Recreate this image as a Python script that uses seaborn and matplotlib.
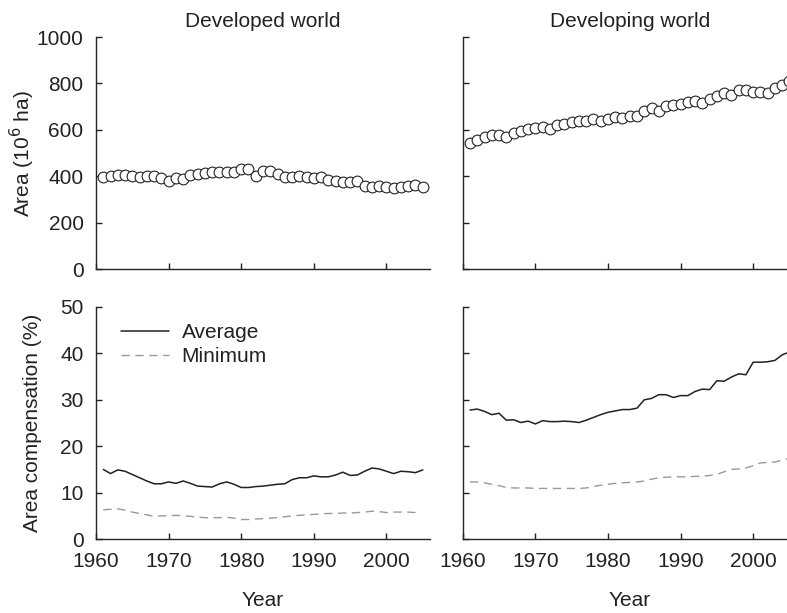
import matplotlib
matplotlib.use("Agg")
import matplotlib.pyplot as plt
import seaborn as sns

# Data
years = list(range(1961, 2006))

area_developed = [396, 401, 406, 407, 401, 399, 401, 400, 391, 381,
                  393, 388, 407, 410, 414, 417, 419, 419, 420, 430,
                  432, 401, 421, 422, 410, 399, 396, 403, 396, 392,
                  399, 384, 378, 374, 374, 378, 357, 353, 360, 355,
                  350, 353, 360, 364, 353]

area_developing = [544, 557, 568, 580, 578, 571, 586, 594, 603, 609,
                   614, 604, 619, 626, 633, 637, 640, 647, 637, 646,
                   655, 650, 658, 662, 683, 694, 681, 705, 709, 712,
                   719, 724, 715, 734, 744, 758, 751, 770, 770, 763,
                   765, 761, 780, 794, 809]

avg_developed = [15.0, 14.1, 14.9, 14.6, 13.9, 13.2, 12.5, 11.9, 11.9, 12.3,
                 12.0, 12.5, 12.0, 11.4, 11.3, 11.2, 11.9, 12.3, 11.8, 11.1,
                 11.1, 11.3, 11.4, 11.6, 11.8, 11.9, 12.8, 13.2, 13.2, 13.6,
                 13.4, 13.4, 13.8, 14.4, 13.7, 13.8, 14.6, 15.3, 15.1, 14.6,
                 14.1, 14.6, 14.5, 14.3, 14.9]

# minimum series for the developed world stops at 2004
min_developed = [6.3, 6.4, 6.5, 6.2, 5.8, 5.5, 5.2, 4.9, 5.0, 5.0,
                 5.1, 5.0, 4.9, 4.7, 4.6, 4.6, 4.6, 4.7, 4.5, 4.2,
                 4.2, 4.3, 4.4, 4.5, 4.6, 4.8, 5.0, 5.1, 5.2, 5.3,
                 5.4, 5.5, 5.5, 5.6, 5.6, 5.7, 5.8, 6.0, 5.9, 5.7,
                 5.8, 5.8, 5.8, 5.7]

avg_developing = [27.8, 28.0, 27.5, 26.8, 27.1, 25.6, 25.7, 25.1, 25.4, 24.8,
                  25.5, 25.3, 25.3, 25.4, 25.3, 25.1, 25.6, 26.2, 26.8, 27.3,
                  27.6, 27.9, 27.9, 28.2, 30.0, 30.3, 31.1, 31.1, 30.5, 30.9,
                  30.9, 31.8, 32.3, 32.2, 34.1, 34.0, 34.9, 35.6, 35.4, 38.1,
                  38.1, 38.2, 38.5, 39.7, 40.3]

min_developing = [12.3, 12.3, 12.1, 11.8, 11.5, 11.1, 11.0, 11.0, 11.0, 10.9,
                  10.9, 10.9, 10.9, 10.9, 10.9, 10.9, 11.0, 11.3, 11.6, 11.8,
                  12.0, 12.1, 12.2, 12.3, 12.5, 12.9, 13.2, 13.3, 13.4, 13.4,
                  13.4, 13.5, 13.5, 13.7, 13.9, 14.5, 15.0, 15.1, 15.3, 15.8,
                  16.4, 16.5, 16.6, 17.0, 17.4]

panel_titles = ["Developed world", "Developing world"]

FS = 15
sns.set_style("ticks")
plt.rcParams['font.family'] = ['Liberation Sans', 'DejaVu Sans']
plt.rcParams['font.size'] = FS
plt.rcParams['axes.linewidth'] = 1.0
plt.rcParams['text.color'] = '#222222'
plt.rcParams['axes.labelcolor'] = '#222222'

fig = plt.figure(figsize=(7.87, 6.13), dpi=100)

w, h = 0.4244, 0.3785
ax_tl = fig.add_axes([0.122, 0.561, w, h])
ax_tr = fig.add_axes([0.588, 0.561, w, h])
ax_bl = fig.add_axes([0.122, 0.1207, w, h])
ax_br = fig.add_axes([0.588, 0.1207, w, h])

dash = (0, (6, 4))

# Top row: area
for ax, vals, title in [(ax_tl, area_developed, panel_titles[0]),
                        (ax_tr, area_developing, panel_titles[1])]:
    sns.scatterplot(x=years, y=vals, ax=ax, marker='o', s=60,
                    color='white', edgecolor='#222222', linewidth=0.8,
                    zorder=3, legend=False)
    ax.set_ylim(0, 1000)
    ax.set_yticks([0, 200, 400, 600, 800, 1000])
    ax.set_title(title, fontsize=FS, pad=7)
    ax.tick_params(labelbottom=False)

# Bottom row: area compensation
sns.lineplot(x=years, y=avg_developed, ax=ax_bl, color='#222222',
             linewidth=1.1, label='Average')
sns.lineplot(x=years[:len(min_developed)], y=min_developed, ax=ax_bl,
             color='#999999', linewidth=1.0, linestyle=dash, label='Minimum')
sns.lineplot(x=years, y=avg_developing, ax=ax_br, color='#222222',
             linewidth=1.1, legend=False)
sns.lineplot(x=years, y=min_developing, ax=ax_br, color='#999999',
             linewidth=1.0, linestyle=dash, legend=False)

ax_bl.legend(loc='upper left', bbox_to_anchor=(0.075, 0.93), frameon=False,
             handlelength=2.3, handletextpad=0.6, labelspacing=0.25,
             fontsize=FS, borderaxespad=0, borderpad=0)

for ax in (ax_bl, ax_br):
    ax.set_ylim(0, 50)
    ax.set_yticks([0, 10, 20, 30, 40, 50])
    ax.set_xlabel('Year', labelpad=15)

for ax in (ax_tl, ax_tr, ax_bl, ax_br):
    ax.set_xlim(1960, 2006)
    ax.set_xticks([1960, 1970, 1980, 1990, 2000])
    ax.tick_params(direction='in', length=4, width=1, pad=9,
                   labelsize=FS, colors='#222222')
    sns.despine(ax=ax)

for ax in (ax_tr, ax_br):
    ax.tick_params(labelleft=False)
    ax.set_ylabel('')

ax_tl.set_ylabel('Area (10$^6$ ha)', labelpad=0)
ax_bl.set_ylabel('Area compensation (%)', labelpad=13)

fig.savefig('out.png', dpi=100)
